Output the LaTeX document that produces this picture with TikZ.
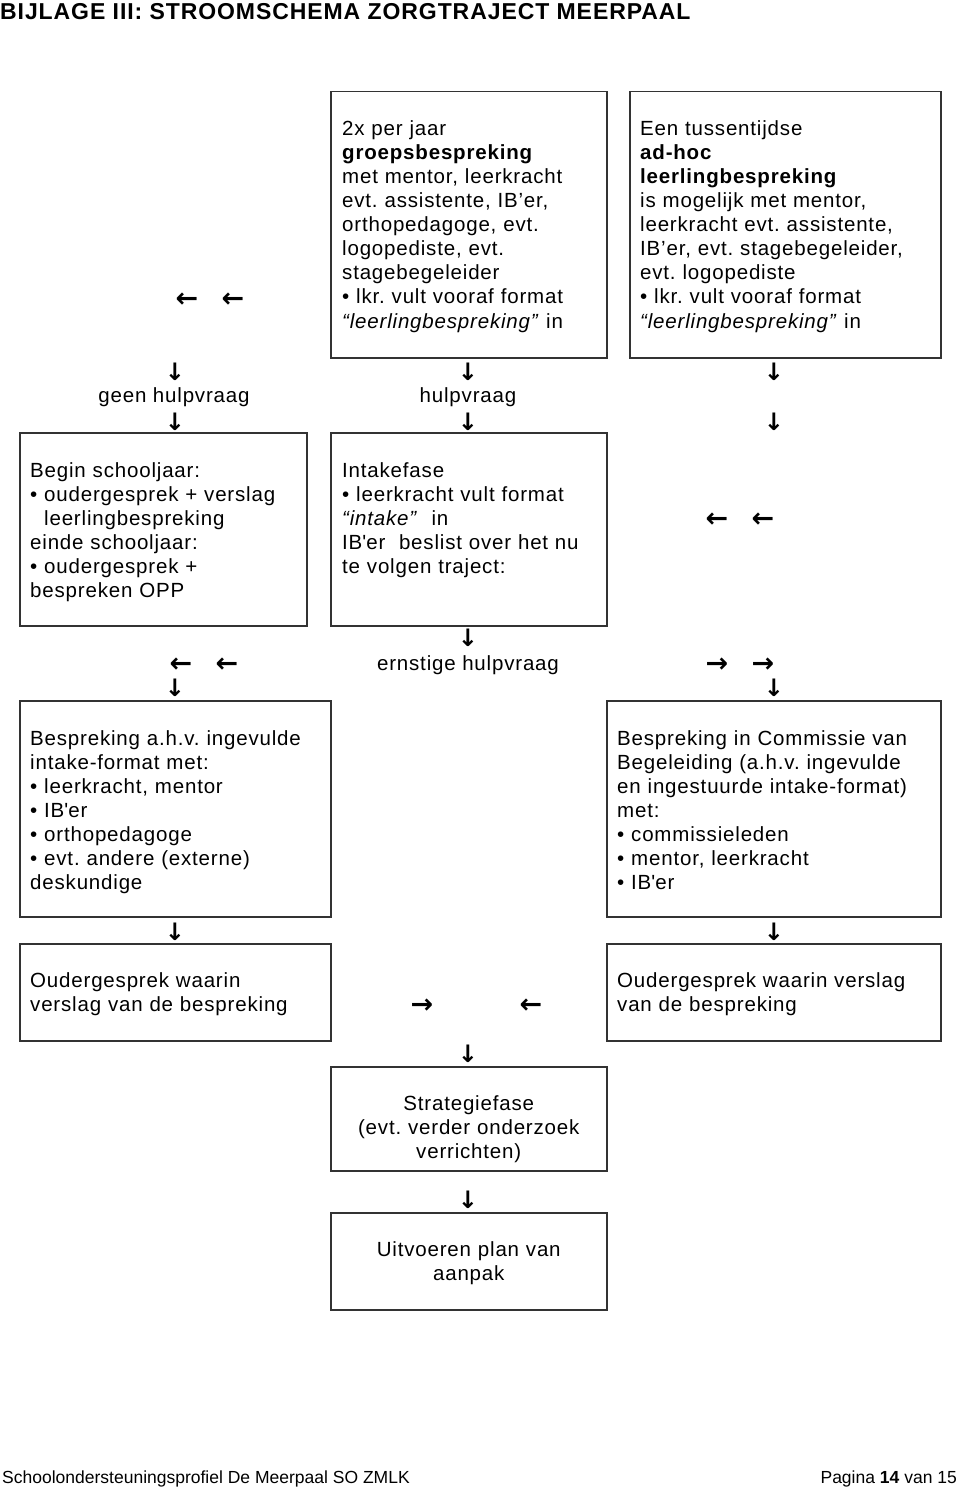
\documentclass[tikz,border=0pt]{standalone}
\usepackage{fontspec}
\setmainfont{Liberation Sans}[LetterSpace=4]
\newfontfamily\titelfont{Liberation Sans}[LetterSpace=4]
\newfontfamily\voetfont{Liberation Sans}
\newfontfamily\pijlfont{DejaVu Sans}
\frenchspacing

\begin{document}
\begin{tikzpicture}[x=1pt, y=-1pt,
    vak/.style={draw=black!80, line width=1.5pt, anchor=north west, inner sep=0pt},
    tekst/.style={anchor=base west, inner sep=0pt, text width=330pt, align=left,
        font=\fontsize{20.5}{24}\selectfont},
    midden/.style={anchor=base, inner sep=0pt, text width=270pt, align=center,
        font=\fontsize{20.5}{24}\selectfont},
    los/.style={anchor=base, inner sep=0pt, font=\fontsize{20.5}{24}\selectfont},
    vpijl/.style={inner sep=0pt, font=\pijlfont\bfseries\fontsize{24}{24}\selectfont},
    hpijl/.style={inner sep=0pt, font=\pijlfont\bfseries\fontsize{27}{27}\selectfont}]
    \useasboundingbox (0,0) rectangle (960,1490);

    % titel en voettekst
    \node[anchor=base west, inner sep=0pt, font=\titelfont\fontsize{23}{23}\selectfont\bfseries]
        (titel) at (0,20) {BIJLAGE III: STROOMSCHEMA ZORGTRAJECT MEERPAAL};
    \node[anchor=base west, inner sep=0pt, font=\voetfont\fontsize{17.5}{20}\selectfont]
        (voet) at (2,1483) {Schoolondersteuningsprofiel De Meerpaal SO ZMLK};
    \node[anchor=base east, inner sep=0pt, font=\voetfont\fontsize{17.5}{20}\selectfont]
        (pagina) at (957,1483) {Pagina \textbf{14} van 15};

    % bovenste rij
    \node[vak, minimum width=276pt, minimum height=266pt] (groep) at (330,91) {};
    \node[tekst] (groeptxt) at ([xshift=12pt,yshift=-45pt]groep.north west) {2x per jaar\\
        \textbf{groepsbespreking}\\
        met mentor, leerkracht\\
        evt. assistente, IB’er,\\
        orthopedagoge, evt.\\
        logopediste, evt.\\
        stagebegeleider\\
        • lkr. vult vooraf format\\
        \textit{“leerlingbespreking”} in};
    \node[vak, minimum width=311pt, minimum height=266pt] (adhoc) at (629,91) {};
    \node[tekst] (adhoctxt) at ([xshift=11pt,yshift=-45pt]adhoc.north west) {Een tussentijdse\\
        \textbf{ad-hoc}\\
        \textbf{leerlingbespreking}\\
        is mogelijk met mentor,\\
        leerkracht evt. assistente,\\
        IB’er, evt. stagebegeleider,\\
        evt. logopediste\\
        • lkr. vult vooraf format\\
        \textit{“leerlingbespreking”} in};
    \node[hpijl] (p1) at (187,300) {←};
    \node[hpijl] (p2) at (233,300) {←};

    \node[vpijl] (p3) at (175,372) {↓};
    \node[vpijl] (p4) at (468,372) {↓};
    \node[vpijl] (p5) at (774,372) {↓};
    \node[los] (geen) at (174,402) {geen hulpvraag};
    \node[los] (hulp) at (468,402) {hulpvraag};
    \node[vpijl] (p6) at (175,422) {↓};
    \node[vpijl] (p7) at (468,422) {↓};
    \node[vpijl] (p8) at (774,422) {↓};

    % tweede rij
    \node[vak, minimum width=287pt, minimum height=193pt] (begin) at (19,432) {};
    \node[tekst] (begintxt) at ([xshift=11pt,yshift=-45pt]begin.north west) {Begin schooljaar:\\
        • oudergesprek + verslag\\
        \hspace*{14pt}leerlingbespreking\\
        einde schooljaar:\\
        • oudergesprek +\\
        bespreken OPP};
    \node[vak, minimum width=276pt, minimum height=193pt] (intake) at (330,432) {};
    \node[tekst] (intaketxt) at ([xshift=12pt,yshift=-45pt]intake.north west) {Intakefase\\
        • leerkracht vult format\\
        \textit{“intake”}\ \ in\\
        IB\textquotesingle er\ \ beslist over het nu\\
        te volgen traject:};
    \node[hpijl] (p9) at (717,520) {←};
    \node[hpijl] (p10) at (763,520) {←};

    \node[vpijl] (p11) at (468,638) {↓};
    \node[hpijl] (p12) at (181,665) {←};
    \node[hpijl] (p13) at (227,665) {←};
    \node[los] (ernstig) at (468,670) {ernstige hulpvraag};
    \node[hpijl] (p14) at (717,665) {→};
    \node[hpijl] (p15) at (763,665) {→};
    \node[vpijl] (p16) at (175,688) {↓};
    \node[vpijl] (p17) at (774,688) {↓};

    % derde rij
    \node[vak, minimum width=311pt, minimum height=216pt] (bespreking) at (19,700) {};
    \node[tekst] (besprekingtxt) at ([xshift=11pt,yshift=-45pt]bespreking.north west) {Bespreking a.h.v. ingevulde\\
        intake-format met:\\
        • leerkracht, mentor\\
        • IB\textquotesingle er\\
        • orthopedagoge\\
        • evt. andere (externe)\\
        deskundige};
    \node[vak, minimum width=334pt, minimum height=216pt] (commissie) at (606,700) {};
    \node[tekst] (commissietxt) at ([xshift=11pt,yshift=-45pt]commissie.north west) {Bespreking in Commissie van\\
        Begeleiding (a.h.v. ingevulde\\
        en ingestuurde intake-format)\\
        met:\\
        • commissieleden\\
        • mentor, leerkracht\\
        • IB\textquotesingle er};

    \node[vpijl] (p18) at (175,932) {↓};
    \node[vpijl] (p19) at (774,932) {↓};

    % oudergesprekken
    \node[vak, minimum width=311pt, minimum height=97pt] (ouderl) at (19,943) {};
    \node[tekst] (ouderltxt) at ([xshift=11pt,yshift=-44pt]ouderl.north west) {Oudergesprek waarin\\
        verslag van de bespreking};
    \node[vak, minimum width=334pt, minimum height=97pt] (ouderr) at (606,943) {};
    \node[tekst] (ouderrtxt) at ([xshift=11pt,yshift=-44pt]ouderr.north west) {Oudergesprek waarin verslag\\
        van de bespreking};
    \node[hpijl] (p20) at (422,1006) {→};
    \node[hpijl] (p21) at (531,1006) {←};

    % strategie en uitvoering
    \node[vpijl] (p22) at (468,1054) {↓};
    \node[vak, minimum width=276pt, minimum height=104pt] (strategie) at (330,1066) {};
    \node[midden] (strategietxt) at ([yshift=-44pt]strategie.north) {Strategiefase\\
        (evt. verder onderzoek\\
        verrichten)};
    \node[vpijl] (p23) at (468,1200) {↓};
    \node[vak, minimum width=276pt, minimum height=97pt] (uitvoeren) at (330,1212) {};
    \node[midden] (uitvoerentxt) at ([yshift=-44pt]uitvoeren.north) {Uitvoeren plan van\\
        aanpak};
\end{tikzpicture}
\end{document}
